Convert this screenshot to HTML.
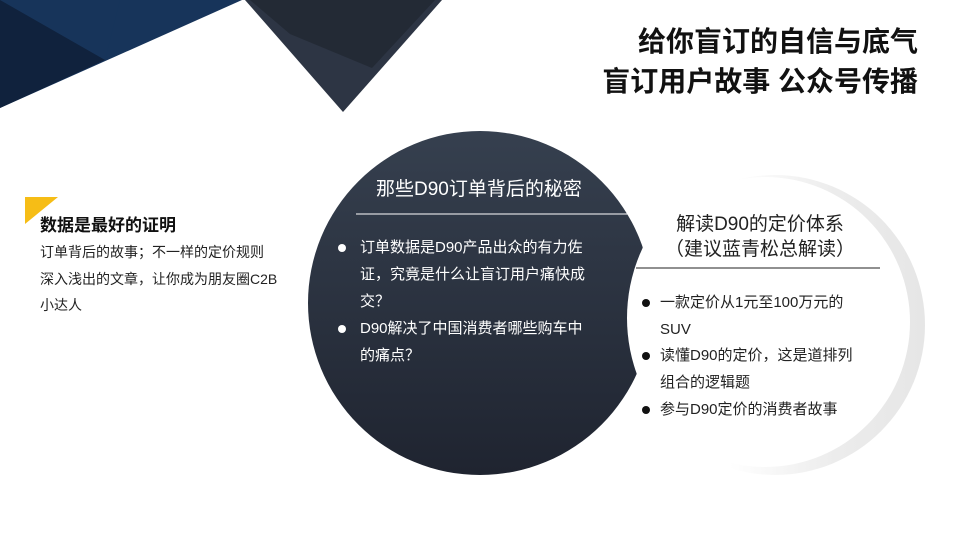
<!DOCTYPE html>
<html><head><meta charset="utf-8"><style>
html,body{margin:0;padding:0;background:#fff;}
#c{position:relative;width:960px;height:540px;overflow:hidden;font-family:"Liberation Sans","Noto Sans CJK SC",sans-serif;}
.t{position:absolute;white-space:nowrap;}
</style></head><body><div id="c">
<svg width="960" height="540" style="position:absolute;left:0;top:0">
<defs>
<linearGradient id="g" x1="0" y1="0" x2="0" y2="1"><stop offset="0" stop-color="#36404f"/><stop offset="1" stop-color="#1f2430"/></linearGradient>
<linearGradient id="rg" x1="0" y1="0" x2="1" y2="0"><stop offset="0.35" stop-color="#fff"/><stop offset="0.7" stop-color="#ececec"/><stop offset="1" stop-color="#e6e6e6"/></linearGradient>
<mask id="m"><rect width="960" height="540" fill="#fff"/><circle cx="792" cy="318" r="165" fill="#000"/></mask>
</defs>
<polygon points="0,0 242,0 0,108" fill="#17345a"/>
<polygon points="0,0 100,0 105,60 0,108" fill="#10223d"/>
<polygon points="0,0 120,0 105,60" fill="#17345a"/>
<polygon points="245,0 442,0 343,112" fill="#2d3544"/>
<polygon points="250,0 435,0 372,68 290,34" fill="#232a35"/>
<circle cx="775" cy="325" r="150" fill="url(#rg)"/>
<circle cx="765" cy="322" r="145" fill="#fff"/>
<circle cx="480" cy="303" r="172" fill="url(#g)" mask="url(#m)"/>
<polygon points="25,197 58,197 25,224" fill="#f6bd16"/>
<line x1="356" y1="214" x2="628" y2="214" stroke="#fff" stroke-width="1"/>
<line x1="636" y1="268" x2="880" y2="268" stroke="#222" stroke-width="1"/>
<circle cx="342" cy="248" r="4" fill="#fff"/>
<circle cx="342" cy="329" r="4" fill="#fff"/>
<circle cx="646" cy="303" r="4" fill="#111"/>
<circle cx="646" cy="356" r="4" fill="#111"/>
<circle cx="646" cy="410" r="4" fill="#111"/>
</svg>
<div class="t" style="right:42px;top:22px;font-size:28px;font-weight:bold;line-height:40px;text-align:right;color:#111">给你盲订的自信与底气<br>盲订用户故事 公众号传播</div>
<div class="t" style="left:40px;top:211px;font-size:17px;font-weight:bold;color:#111">数据是最好的证明</div>
<div class="t" style="left:40px;top:239px;font-size:14px;line-height:26.5px;color:#222">订单背后的故事；不一样的定价规则<br>深入浅出的文章，让你成为朋友圈C2B<br>小达人</div>
<div class="t" style="left:376px;top:174px;font-size:19px;color:#fff">那些D90订单背后的秘密</div>
<div class="t" style="left:360px;top:234px;font-size:15px;line-height:27px;color:#fff">订单数据是D90产品出众的有力佐<br>证，究竟是什么让盲订用户痛快成<br>交？</div>
<div class="t" style="left:360px;top:315px;font-size:15px;line-height:27px;color:#fff">D90解决了中国消费者哪些购车中<br>的痛点？</div>
<div class="t" style="left:640px;top:212px;width:240px;text-align:center;font-size:19px;line-height:25px;color:#222">解读D90的定价体系<br>（建议蓝青松总解读）</div>
<div class="t" style="left:660px;top:289px;font-size:15px;line-height:27px;color:#222">一款定价从1元至100万元的<br>SUV</div>
<div class="t" style="left:660px;top:342px;font-size:15px;line-height:27px;color:#222">读懂D90的定价，这是道排列<br>组合的逻辑题</div>
<div class="t" style="left:660px;top:396px;font-size:15px;line-height:27px;color:#222">参与D90定价的消费者故事</div>
</div></body></html>
